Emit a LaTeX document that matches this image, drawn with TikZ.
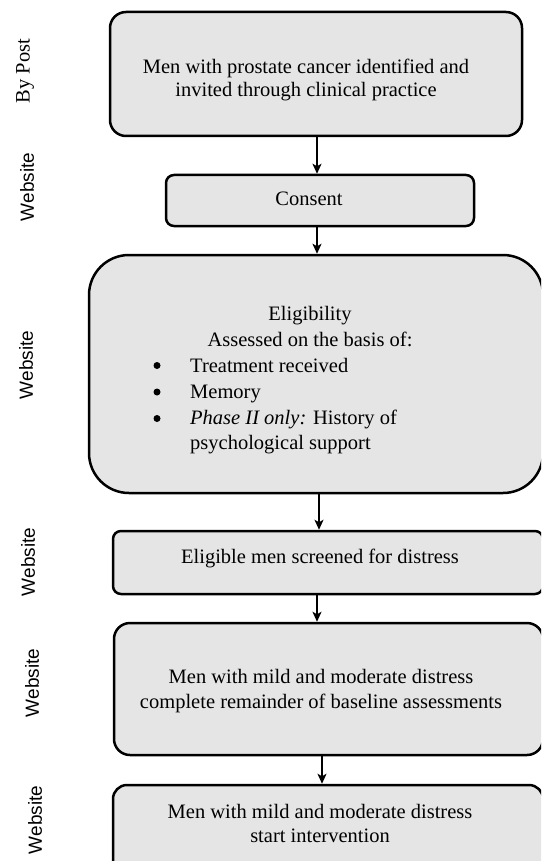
\documentclass[tikz,border=0pt]{standalone}
\usepackage{fontspec}
\setmainfont{Liberation Serif}
\newfontfamily\labfont{Liberation Sans}
\usetikzlibrary{arrows.meta}
\definecolor{boxgray}{HTML}{E5E5E5}
\begin{document}
\begin{tikzpicture}[x=1pt,y=-1pt,
  box/.style={draw=black,line width=2.5pt,fill=boxgray,inner sep=0pt},
  txt/.style={inner sep=0pt,font=\fontsize{20.5}{24}\selectfont},
  bul/.style={circle,fill=black,inner sep=0pt,minimum size=7pt},
  side/.style={inner sep=0pt,rotate=90,font=\labfont\fontsize{19}{22}\selectfont},
  sideserif/.style={inner sep=0pt,rotate=90,font=\fontsize{20.5}{24}\selectfont},
  arr/.style={line width=1.5pt,-{Stealth[length=10pt,width=9pt,inset=2.5pt]}}]
\useasboundingbox (0,0) rectangle (541,861);
\clip (0,0) rectangle (541,861);
\fill[white] (0,0) rectangle (541,861);

% boxes
\node[box,rounded corners=16pt,minimum width=412pt,minimum height=124pt] (b1) at (316,74) {};
\node[box,rounded corners=8pt,minimum width=308pt,minimum height=51pt] (b2) at (320,200.5) {};
\node[box,rounded corners=40pt,minimum width=454pt,minimum height=238pt] (b3) at (316,374) {};
\node[box,rounded corners=8pt,minimum width=430pt,minimum height=63pt] (b4) at (328,562.5) {};
\node[box,rounded corners=16pt,minimum width=429pt,minimum height=132pt] (b5) at (328.5,689) {};
\node[box,rounded corners=14pt,minimum width=430pt,minimum height=90pt] (b6) at (328,830) {};

% texts
\node[txt,anchor=base] (t1a) at (306,74) {Men with prostate cancer identified and};
\node[txt,anchor=base] (t1b) at (306,97) {invited through clinical practice};
\node[txt,anchor=base] (t2) at (309,205) {Consent};
\node[txt,anchor=base] (t3a) at (310,320.5) {Eligibility};
\node[txt,anchor=base] (t3b) at (310,346) {Assessed on the basis of:};
\node[txt,anchor=base west] (t3c) at (190,372) {Treatment received};
\node[txt,anchor=base west] (t3d) at (190,398) {Memory};
\node[txt,anchor=base west] (t3e) at (190,424) {\textit{Phase II only:} History of};
\node[txt,anchor=base west] (t3f) at (190,449) {psychological support};
\node[bul] (u1) at (157,365.5) {};
\node[bul] (u2) at (157,392) {};
\node[bul] (u3) at (157,418.5) {};
\node[txt,anchor=base] (t4) at (320,563) {Eligible men screened for distress};
\node[txt,anchor=base] (t5a) at (321,683) {Men with mild and moderate distress};
\node[txt,anchor=base] (t5b) at (321,708) {complete remainder of baseline assessments};
\node[txt,anchor=base] (t6a) at (320,818) {Men with mild and moderate distress};
\node[txt,anchor=base] (t6b) at (320,842) {start intervention};

% side labels
\node[sideserif] (s1) at (25,71) {By Post};
\node[side] (s2) at (27,187) {Website};
\node[side] (s3) at (26,365) {Website};
\node[side] (s4) at (28,562) {Website};
\node[side] (s5) at (32,683) {Website};
\node[side] (s6) at (35,820) {Website};

% arrows
\coordinate (x1) at (317,0);
\coordinate (x2) at (317,0);
\coordinate (x3) at (319,0);
\coordinate (x4) at (317,0);
\coordinate (x5) at (322,0);
\draw[arr] (b1.south -| x1) -- (b2.north -| x1);
\draw[arr] (b2.south -| x2) -- (b3.north -| x2);
\draw[arr] (b3.south -| x3) -- (b4.north -| x3);
\draw[arr] (b4.south -| x4) -- (b5.north -| x4);
\draw[arr] (b5.south -| x5) -- (b6.north -| x5);
\end{tikzpicture}
\end{document}
